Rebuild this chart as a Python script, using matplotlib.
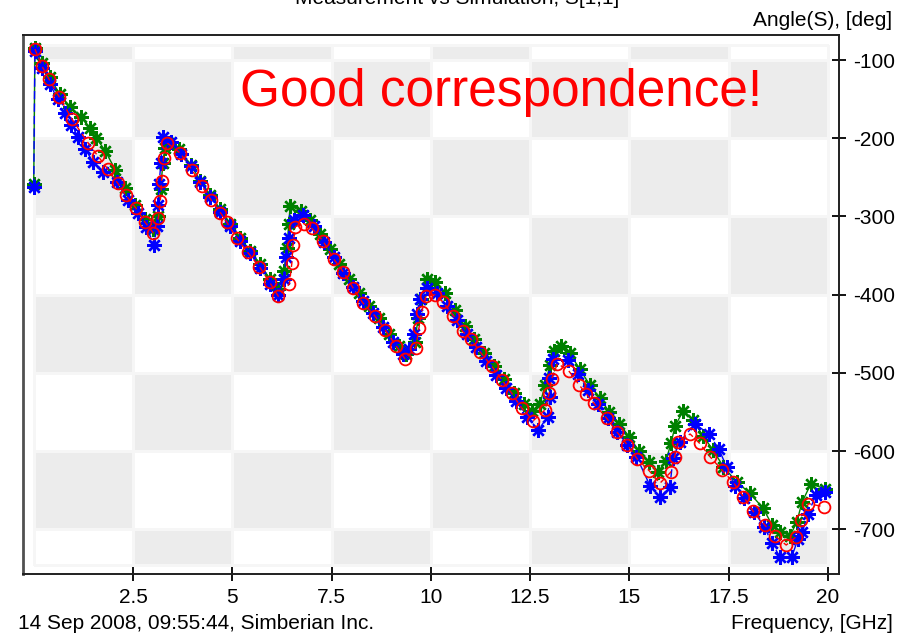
import numpy as np
import matplotlib
matplotlib.use("Agg")
import matplotlib.pyplot as plt
from matplotlib.colors import ListedColormap

plt.rcParams['font.family'] = ['Liberation Sans', 'DejaVu Sans']

# ---------------- data ----------------
red_f = [0.03, 0.21, 0.38, 0.64, 0.97, 1.37, 1.62, 1.86, 2.11, 2.32, 2.57, 2.80, 3.01,
         3.14, 3.19, 3.22, 3.27, 3.36, 3.69, 3.98, 4.23, 4.47, 4.70, 4.86, 5.11, 5.39,
         5.68, 5.94, 6.16, 6.44, 6.50, 6.53, 6.59, 6.80, 7.00, 7.28, 7.55, 7.80, 8.05,
         8.28, 8.59, 8.85, 9.12, 9.35, 9.62, 9.70, 9.77, 9.88, 10.10, 10.30, 10.57,
         10.80, 11.00, 11.24, 11.53, 11.79, 12.04, 12.29, 12.58, 12.88, 12.98, 13.04,
         13.19, 13.47, 13.73, 13.92, 14.11, 14.43, 14.68, 14.95, 15.20, 15.50, 15.77,
         16.04, 16.14, 16.23, 16.53, 16.77, 17.03, 17.33, 17.62, 17.87, 18.12, 18.42,
         18.67, 18.95, 19.19, 19.32, 19.51, 19.89]
red_a = [-86, -108, -124, -147, -176, -206, -223, -239, -257, -273, -289, -307, -321,
         -302, -280, -254, -225, -206, -219, -240, -261, -279, -295, -307, -328, -346,
         -364, -384, -402, -386, -360, -336, -313, -309, -315, -331, -354, -371, -392,
         -410, -427, -445, -465, -482, -468, -443, -422, -402, -400, -409, -427,
         -447, -456, -473, -491, -509, -526, -545, -561, -547, -526, -508,
         -488, -497, -515, -527, -539, -558, -575, -592, -610, -625, -641,
         -627, -607, -588, -578, -590, -607, -624, -640, -658, -677, -695,
         -708, -720, -710, -688, -667, -671]

green_f = [0.00, 0.03, 0.20, 0.40, 0.65, 0.91, 1.20, 1.41, 1.58, 1.80, 2.05, 2.30, 2.55,
           2.80, 3.00, 3.12, 3.20, 3.25, 3.30, 3.40, 3.65, 3.95, 4.20, 4.45, 4.70, 4.95,
           5.20, 5.45, 5.70, 5.95, 6.15, 6.30, 6.38, 6.42, 6.46, 6.72, 6.95, 7.20, 7.45,
           7.70, 7.95, 8.20, 8.45, 8.70, 8.95, 9.20, 9.38, 9.60, 9.68, 9.75, 9.90, 10.10,
           10.35, 10.60, 10.85, 11.10, 11.35, 11.60, 11.85, 12.10, 12.35, 12.55, 12.75,
           12.88, 13.00, 13.10, 13.27, 13.50, 13.75, 14.00, 14.25, 14.50, 14.75, 15.00,
           15.25, 15.50, 15.72, 15.92, 16.05, 16.15, 16.36, 16.60, 16.85, 17.10, 17.37,
           17.70, 18.04, 18.37, 18.60, 18.80, 19.05, 19.22, 19.35, 19.57, 19.93]
green_a = [-259, -85, -104, -122, -143, -160, -173, -187, -200, -216, -240, -264, -285,
           -303, -316, -300, -265, -232, -212, -206, -214, -234, -254, -273, -291, -309,
           -327, -344, -361, -380, -393, -370, -340, -310, -286, -293, -305, -322, -342,
           -361, -380, -398, -414, -430, -450, -465, -476, -460, -430, -405, -380, -384,
           -398, -420, -440, -457, -474, -491, -508, -525, -540, -549, -540,
           -515, -490, -472, -465, -475, -495, -515, -532, -550, -565, -582,
           -600, -614, -627, -612, -590, -568, -548, -560, -580, -598, -620,
           -639, -654, -673, -695, -703, -708, -690, -665, -642, -648]

blue_f = [0.00, 0.03, 0.20, 0.40, 0.60, 0.78, 0.95, 1.12, 1.30, 1.49, 1.75, 2.09, 2.38,
          2.63, 2.84, 3.03, 3.10, 3.13, 3.16, 3.20, 3.26, 3.45, 3.70, 3.95, 4.20, 4.45,
          4.70, 4.95, 5.20, 5.45, 5.70, 5.95, 6.15, 6.30, 6.35, 6.42, 6.55, 6.79, 7.05,
          7.30, 7.55, 7.80, 8.05, 8.30, 8.55, 8.80, 9.05, 9.30, 9.45, 9.58, 9.65, 9.72,
          9.90, 10.15, 10.40, 10.65, 10.90, 11.15, 11.40, 11.65, 11.90, 12.15, 12.42,
          12.71, 12.94, 13.00, 12.98, 13.08, 13.46, 13.71, 13.95, 14.20, 14.45, 14.70,
          14.95, 15.18, 15.52, 15.77, 16.02, 16.10, 16.27, 16.65, 17.00, 17.25, 17.45,
          17.66, 17.90, 18.15, 18.40, 18.60, 18.79, 19.09, 19.25, 19.36, 19.50, 19.70,
          19.94]
blue_a = [-262, -88, -110, -130, -150, -168, -183, -198, -214, -230, -243, -256, -279,
          -296, -313, -337, -312, -285, -258, -232, -199, -205, -220, -236, -256, -275,
          -294, -312, -331, -347, -366, -386, -400, -380, -352, -328, -305, -298, -312,
          -332, -352, -372, -390, -408, -424, -441, -460, -476, -470, -450, -425, -405,
          -392, -398, -414, -432, -450, -467, -485, -502, -519, -536, -556,
          -573, -556, -531, -507, -482, -484, -501, -522, -540, -558, -575,
          -592, -607, -644, -659, -646, -609, -588, -565, -578, -597, -620,
          -644, -660, -678, -697, -718, -735, -735, -712, -703, -680, -656,
          -652]

x_ticks = [2.5, 5, 7.5, 10, 12.5, 15, 17.5, 20]
x_labels = ["2.5", "5", "7.5", "10", "12.5", "15", "17.5", "20"]
y_ticks = [-100, -200, -300, -400, -500, -600, -700]
y_labels = ["-100", "-200", "-300", "-400", "-500", "-600", "-700"]

# checkerboard background edges
cb_x = [0, 2.5, 5, 7.5, 10, 12.5, 15, 17.5, 20]
cb_y = [-745, -700, -600, -500, -400, -300, -200, -100, -81]

# ---------------- figure ----------------
W, H = 898, 636
fig = plt.figure(figsize=(W / 100, H / 100), dpi=100)
fig.patch.set_facecolor('white')
ax = fig.add_axes([23 / W, 1 - 574 / H, (839 - 23) / W, (574 - 35) / H])

# checkerboard
nx, ny = len(cb_x) - 1, len(cb_y) - 1
C = np.zeros((ny, nx))
for j in range(ny):
    for i in range(nx):
        row_from_top = ny - 1 - j
        C[j, i] = 1 if (i + row_from_top) % 2 == 0 else 0
ax.pcolormesh(cb_x, cb_y, C, cmap=ListedColormap(['white', '#ececec']),
              edgecolors='#f6f6f6', linewidth=0.8, zorder=0)

ax.plot(green_f, green_a, color='#008000', lw=1.0, ls='-',
        marker=(8, 2, 0), ms=10.5, mew=1.7, zorder=3)
ax.plot(blue_f, blue_a, color='#0000ff', lw=1.0, ls=(0, (6, 3)),
        marker=(8, 2, 0), ms=10.5, mew=1.7, zorder=4)
ax.plot(red_f, red_a, color='#ff0000', lw=1.0, ls=(0, (4, 3)),
        marker='o', ms=8.5, mew=1.3, mfc='none', zorder=5)

ax.set_xlim(-0.27, 20.28)
ax.set_ylim(-757, -68)

ax.set_xticks(x_ticks)
ax.set_xticklabels(x_labels)
ax.set_yticks(y_ticks)
ax.set_yticklabels(y_labels)
ax.yaxis.tick_right()
ax.tick_params(axis='both', direction='inout', length=10, width=1.3,
               labelsize=15, colors='black')
ax.tick_params(axis='x', pad=5)
ax.tick_params(axis='y', pad=5)

for s in ['top', 'right', 'bottom']:
    ax.spines[s].set_color('#202020')
    ax.spines[s].set_linewidth(1.4)
ax.spines['left'].set_color('#505050')
ax.spines['left'].set_linewidth(2.0)

# texts
fig.text(240 / W, 1 - 106 / H, "Good correspondence!", color='red',
         fontsize=37, ha='left', va='baseline')
fig.text(892 / W, 1 - 26 / H, "Angle(S), [deg]", fontsize=15,
         ha='right', va='baseline')
fig.text(893 / W, 1 - 629 / H, "Frequency, [GHz]", fontsize=15,
         ha='right', va='baseline')
fig.text(18 / W, 1 - 629 / H, "14 Sep 2008, 09:55:44, Simberian Inc.", fontsize=15,
         ha='left', va='baseline')
fig.text(457 / W, 1 - 4 / H, "Measurement vs Simulation, S[1,1]", fontsize=15,
         ha='center', va='baseline')

fig.savefig("out.png", dpi=100, facecolor='white')
